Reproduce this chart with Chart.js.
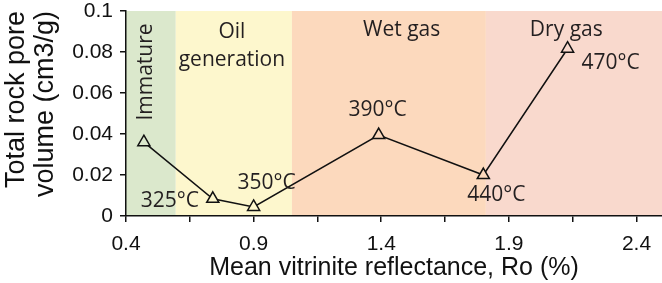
<!DOCTYPE html>
<html>
<head>
<meta charset="utf-8">
<script src="https://cdn.jsdelivr.net/npm/chart.js"></script>
<style>
  html, body { margin: 0; padding: 0; background: #fff; }
  #wrap { width: 662px; height: 283px; position: relative; }
</style>
</head>
<body>
<div id="wrap"><canvas id="chart"></canvas></div>
<script>
// mean vitrinite reflectance Ro (%) vs total rock pore volume (cm3/g)
const ro = [0.47, 0.74, 0.90, 1.39, 1.80, 2.13];
const poreVolume = [0.036, 0.0084, 0.0044, 0.0395, 0.020, 0.0816];
const tempLabels = ['', '325°C', '350°C', '390°C', '440°C', '470°C'];

const xTicks = [0.4, 0.65, 0.9, 1.15, 1.4, 1.65, 1.9, 2.15, 2.4];
const xTickLabels = ['0.4', '', '0.9', '', '1.4', '', '1.9', '', '2.4'];
const yTicks = [0, 0.02, 0.04, 0.06, 0.08, 0.1];
const yTickLabels = ['0', '0.02', '0.04', '0.06', '0.08', '0.1'];

// maturity windows along Ro
const zoneNames = [['Immature'], ['Oil', 'generation'], ['Wet gas'], ['Dry gas']];
const zoneStart = [0.4, 0.595, 1.05, 1.81];
const zoneEnd = [0.595, 1.05, 1.81, 2.5];

// styling
const zoneColors = ['#dbe8cc', '#fdf7cd', '#fcd9bd', '#f9d9cd'];
const zoneTextX = [0.48, 0.815, 1.48, 2.125];   // where the window names sit
const zoneTextY = [72, 32, 30, 30];
const zoneTextRot = [true, false, false, false];
const labelOffsets = [[0, 0], [-43, 2], [13, -24], [-1, -25], [13, 20], [43, 14]];
const annoFont = '21px "Open Sans", sans-serif';
const annoColor = '#231f20';
const axisFont = '"Liberation Sans", Arial, sans-serif';

function zoneColorAt(x) {
  for (let i = 0; i < zoneStart.length; i++) {
    if (x >= zoneStart[i] && x < zoneEnd[i]) return zoneColors[i];
  }
  return 'rgba(0,0,0,0)';
}

const zonesPlugin = {
  id: 'zones',
  beforeDraw(chart) {
    const ctx = chart.ctx, xs = chart.scales.x, a = chart.chartArea;
    ctx.save();
    for (let i = 0; i < zoneStart.length; i++) {
      const x0 = xs.getPixelForValue(zoneStart[i]);
      const x1 = xs.getPixelForValue(zoneEnd[i]);
      ctx.fillStyle = zoneColors[i];
      ctx.fillRect(x0, a.top, x1 - x0, a.bottom - a.top);
    }
    ctx.restore();
  },
  afterDatasetsDraw(chart) {
    const ctx = chart.ctx, xs = chart.scales.x, ys = chart.scales.y;
    ctx.save();
    ctx.font = annoFont;
    ctx.fillStyle = annoColor;
    ctx.textAlign = 'center';
    ctx.textBaseline = 'middle';
    // window names
    zoneNames.forEach((lines, i) => {
      const cx = xs.getPixelForValue(zoneTextX[i]);
      const cy = zoneTextY[i];
      if (zoneTextRot[i]) {
        ctx.save();
        ctx.translate(cx, cy);
        ctx.rotate(-Math.PI / 2);
        ctx.fillText(lines[0], 0, 0);
        ctx.restore();
      } else {
        lines.forEach((t, k) => ctx.fillText(t, cx, cy + k * 28));
      }
    });
    // temperature labels
    tempLabels.forEach((t, i) => {
      if (!t) return;
      const px = xs.getPixelForValue(ro[i]) + labelOffsets[i][0];
      const py = ys.getPixelForValue(poreVolume[i]) + labelOffsets[i][1];
      ctx.fillText(t, px, py);
    });
    ctx.restore();
  }
};

new Chart(document.getElementById('chart'), {
  type: 'scatter',
  data: {
    datasets: [{
      data: ro.map((x, i) => ({ x: x, y: poreVolume[i] })),
      showLine: true,
      borderColor: '#111',
      borderWidth: 1.5,
      pointStyle: 'triangle',
      pointRadius: 7,
      pointBorderWidth: 1.5,
      pointBorderColor: '#111',
      pointBackgroundColor: ctx => zoneColorAt(ro[ctx.dataIndex])
    }]
  },
  options: {
    responsive: true,
    maintainAspectRatio: false,
    animation: false,
    layout: { autoPadding: false, padding: { top: 11, right: 0, left: 0, bottom: 0 } },
    plugins: { legend: { display: false }, tooltip: { enabled: false } },
    scales: {
      x: {
        type: 'linear',
        min: 0.4,
        max: 2.5,
        afterBuildTicks: s => { s.ticks = xTicks.map(v => ({ value: v })); },
        afterFit: s => { s.height = 67; s.paddingLeft = 0; s.paddingRight = 0; },
        ticks: {
          autoSkip: false,
          maxRotation: 0,
          color: '#111',
          padding: 10,
          font: { family: axisFont, size: 21 },
          callback: (v, i) => xTickLabels[i]
        },
        grid: { drawOnChartArea: false, color: '#111', tickLength: 6, lineWidth: 1.5 },
        border: { display: true, color: '#111', width: 1.5 },
        title: {
          display: true,
          text: 'Mean vitrinite reflectance, Ro (%)',
          color: '#111',
          font: { family: axisFont, size: 25 },
          padding: { top: 0, bottom: 0 }
        }
      },
      y: {
        min: 0,
        max: 0.1,
        afterBuildTicks: s => { s.ticks = yTicks.map(v => ({ value: v })); },
        afterFit: s => { s.width = 126; s.paddingTop = 0; s.paddingBottom = 0; },
        ticks: {
          color: '#111',
          padding: 7,
          font: { family: axisFont, size: 21 },
          callback: (v, i) => yTickLabels[i]
        },
        grid: { drawOnChartArea: false, color: '#111', tickLength: 6, lineWidth: 1.5 },
        border: { display: true, color: '#111', width: 1.5 },
        title: {
          display: true,
          text: ['Total rock pore', 'volume (cm3/g)'],
          align: 'end',
          color: '#111',
          font: { family: axisFont, size: 27, lineHeight: 1.08 },
          padding: { top: 2, bottom: 0 }
        }
      }
    }
  },
  plugins: [zonesPlugin]
});
</script>
</body>
</html>
